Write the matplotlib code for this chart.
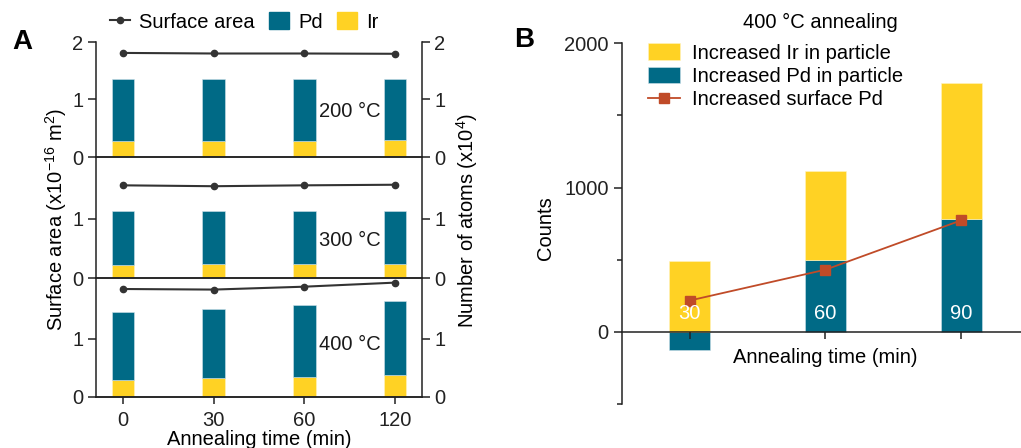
import matplotlib
matplotlib.use("Agg")
import matplotlib.pyplot as plt
from matplotlib.lines import Line2D
from matplotlib.patches import Patch
import numpy as np

FS = 14.5
plt.rcParams['font.family'] = ['Liberation Sans', 'DejaVu Sans']
plt.rcParams['font.size'] = FS
plt.rcParams['mathtext.fontset'] = 'custom'
plt.rcParams['mathtext.rm'] = 'Liberation Sans'
plt.rcParams['mathtext.it'] = 'Liberation Sans'

TEAL = '#006a86'
YELLOW = '#ffd224'
RED = '#c04b28'
DARK = '#222222'

# ---------------- Panel A data ----------------
times_a = ['0', '30', '60', '120']
temps = ['200 °C', '300 °C', '400 °C']
surface_200 = [1.81, 1.80, 1.80, 1.795]
surface_300 = [1.57, 1.555, 1.57, 1.58]
surface_400 = [1.86, 1.85, 1.90, 1.97]
total_200 = [1.35, 1.35, 1.35, 1.35]
total_300 = [1.14, 1.14, 1.14, 1.14]
total_400 = [1.47, 1.51, 1.59, 1.645]
ir_200 = [0.28, 0.285, 0.285, 0.29]
ir_300 = [0.225, 0.24, 0.23, 0.24]
ir_400 = [0.28, 0.33, 0.34, 0.37]

# ---------------- Panel B data ----------------
times_b = ['30', '60', '90']
pd_particle = [-127, 498, 785]
ir_particle = [489, 617, 937]
surface_pd = [217, 431, 773]

fig = plt.figure(figsize=(10.21, 4.48), dpi=100)

W, H = 1021, 448
def rect(l, t, r, b):
    return [l / W, 1 - b / H, (r - l) / W, (b - t) / H]

panels = [
    (rect(96, 42, 422, 157), (0, 2.0), [0, 1, 2], surface_200, total_200, ir_200, 0.79),
    (rect(96, 157, 422, 278), (0, 2.05), [0, 1], surface_300, total_300, ir_300, 0.64),
    (rect(96, 278, 422, 396.7), (0, 2.05), [0, 1], surface_400, total_400, ir_400, 0.91),
]
x = np.arange(len(times_a))
for i, (pos, ylim, yt, surf, tot, ir, ty) in enumerate(panels):
    ax = fig.add_axes(pos)
    ax2 = ax.twinx()
    pdv = np.array(tot) - np.array(ir)
    ax2.bar(x, ir, width=0.25, color=YELLOW, edgecolor='#fff3c0', linewidth=0.4)
    ax2.bar(x, pdv, bottom=ir, width=0.25, color=TEAL, edgecolor='#cfe2ea', linewidth=0.4)
    ax.plot(x, surf, color='#333333', lw=1.5, marker='o', ms=4.5, zorder=5)
    ax.set_zorder(ax2.get_zorder() + 1)
    ax.patch.set_visible(False)
    for a in (ax, ax2):
        a.set_ylim(*ylim)
        a.set_xlim(-0.3, 3.3)
        a.set_yticks(yt)
        a.spines['top'].set_visible(False)
        for s in a.spines.values():
            s.set_linewidth(1.1)
            s.set_color(DARK)
        a.tick_params(axis='y', length=6, width=1.1, colors=DARK, labelsize=FS, pad=3)
    ax2.spines['left'].set_visible(False)
    ax.spines['right'].set_visible(False)
    ax.text(2.5, ty, temps[i], ha='center', va='center', fontsize=FS,
            color='#1a1a1a', zorder=10)
    ax.set_xticks(x)
    if i < 2:
        ax.tick_params(axis='x', length=0, labelbottom=False)
    else:
        ax.tick_params(axis='x', length=5, width=1.1, colors=DARK, labelsize=FS, pad=5)
        ax.set_xticklabels(times_a)
        ax.set_xlabel('Annealing time (min)', fontsize=FS, labelpad=0)
    ax2.tick_params(axis='x', length=0, labelbottom=False)

fig.text(56 / W, 1 - 220 / H, 'Surface area (x10$^{-16}$ m$^2$)', rotation=90,
         ha='center', va='center', fontsize=FS)
fig.text(467 / W, 1 - 220 / H, 'Number of atoms (x10$^4$)', rotation=90,
         ha='center', va='center', fontsize=FS)

handles = [Line2D([], [], color='#333333', lw=1.5, marker='o', ms=4.5),
           Patch(color=TEAL), Patch(color=YELLOW)]
fig.legend(handles, ['Surface area', 'Pd', 'Ir'], loc='center',
           bbox_to_anchor=(244 / W, 1 - 22 / H), ncol=3, frameon=False,
           fontsize=FS, handlelength=1.0, handletextpad=0.45, columnspacing=0.7,
           handleheight=0.9)

fig.text(12 / W, 1 - 42 / H, 'A', fontsize=20, fontweight='bold', va='center', ha='left')
fig.text(514 / W, 1 - 40 / H, 'B', fontsize=20, fontweight='bold', va='center', ha='left')

# ---------------- Panel B ----------------
axb = fig.add_axes(rect(621.7, 43.3, 1021, 404))
xb = np.arange(len(times_b))
pdp = np.array(pd_particle)
irp = np.array(ir_particle)
b_pd = axb.bar(xb, pdp, width=0.3, color=TEAL, edgecolor='#cfe2ea', linewidth=0.4)
b_ir = axb.bar(xb, irp, bottom=np.maximum(pdp, 0), width=0.3, color=YELLOW,
               edgecolor='#fff3c0', linewidth=0.4)
ln, = axb.plot(xb, surface_pd, color=RED, lw=1.3, marker='s', ms=7, zorder=5)
for xi, t in zip(xb, times_b):
    axb.text(xi, 125, t, color='white', ha='center', va='center', fontsize=FS, zorder=6)
axb.set_xlim(-0.5, 2.44)
axb.set_ylim(-500, 2000)
axb.spines['top'].set_visible(False)
axb.spines['right'].set_visible(False)
axb.spines['bottom'].set_position(('data', 0))
for s in axb.spines.values():
    s.set_linewidth(1.1)
    s.set_color(DARK)
axb.set_yticks([0, 1000, 2000])
axb.set_yticks([-500, 500, 1500], minor=True)
axb.tick_params(axis='y', which='major', length=6, width=1.1, colors=DARK, labelsize=FS)
axb.tick_params(axis='y', which='minor', length=3.5, width=1.1, colors=DARK)
axb.set_xticks(xb)
axb.tick_params(axis='x', length=5, width=1.1, colors=DARK, labelbottom=False)
fig.text(545 / W, 1 - 228 / H, 'Counts', rotation=90, ha='center', va='center', fontsize=FS)
fig.text(825 / W, 1 - 357 / H, 'Annealing time (min)', ha='center', va='center', fontsize=FS)
fig.text(820 / W, 1 - 22 / H, '400 °C annealing', ha='center', va='center', fontsize=FS)

axb.legend([b_ir, b_pd, ln],
           ['Increased Ir in particle', 'Increased Pd in particle', 'Increased surface Pd'],
           loc='upper left', bbox_to_anchor=(0.02, 1.05), frameon=False, fontsize=FS,
           handlelength=1.6, handletextpad=0.6, labelspacing=0.2, handleheight=0.9)

fig.savefig('out.png', dpi=100)
